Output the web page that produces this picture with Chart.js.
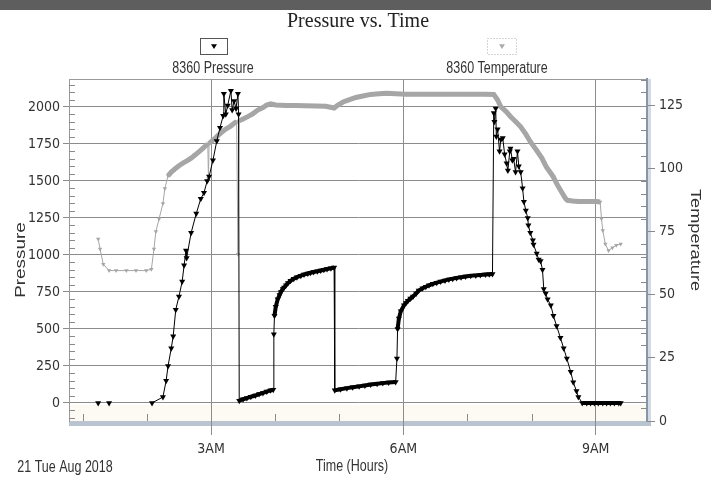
<!DOCTYPE html>
<html><head><meta charset="utf-8">
<script src="https://cdn.jsdelivr.net/npm/chart.js@4"></script>
<style>html,body{margin:0;padding:0;background:#fff;}canvas{display:block;}</style>
</head><body>
<canvas id="c" width="711" height="481"></canvas>
<script>
// ---- data (hours after midnight, 21 Tue Aug 2018) ----
const pressureHours = [1.24,1.32,1.41,1.75,2.08,2.25,2.30,2.33,2.38,2.41,2.45,2.50,2.55,2.58,2.61,2.62,2.69,2.77,2.84,2.89,2.94,2.97,3.03,3.09,3.14,3.19,3.20,3.23,3.26,3.31,3.33,3.36,3.39,3.42,3.43,
  3.44,3.50,3.56,3.62,3.69,3.75,3.81,3.87,3.93,3.97,3.98,3.99,
  4.01,4.04,4.07,4.09,4.12,4.14,4.17,4.20,4.24,4.29,4.34,4.40,4.45,4.51,4.55,4.60,4.66,4.71,4.76,4.81,4.87,4.92,
  4.93,5.02,5.12,5.21,5.31,5.40,5.49,5.59,5.68,5.77,5.88,
  5.90,5.91,5.93,5.96,6.01,6.04,6.07,6.11,6.15,6.20,6.24,6.30,6.35,6.40,6.46,6.52,6.58,6.65,6.71,6.77,6.83,6.90,6.97,7.05,7.13,7.20,7.28,7.34,7.39,
  7.41,7.42,7.44,7.45,7.47,7.50,7.52,7.55,7.58,7.61,7.63,7.66,7.67,7.70,7.72,7.75,7.78,7.80,7.83,7.86,7.88,7.91,7.94,7.95,7.98,8.02,8.03,8.08,8.11,8.14,8.17,8.19,8.22,8.25,8.30,8.34,8.39,8.45,8.50,8.55,8.61,8.65,8.70,8.73,
  8.79,8.86,8.92,8.98,9.04,9.11,9.17,9.23,9.29,9.36,9.39];
const pressureValues = [0,null,0,null,0,40,150,250,370,450,630,720,820,930,1030,980,1150,1280,1380,1420,1500,1530,1640,1770,1860,1940,2090,1950,2010,2110,1980,2040,1990,2090,1950,
  15,25,33,42,50,60,68,77,85,90,465,590,
  650,700,730,750,770,780,795,810,825,840,850,860,868,875,880,885,890,895,900,905,910,915,
  85,93,100,106,112,118,124,130,134,138,142,
  300,500,570,620,660,675,690,705,720,740,760,775,785,795,805,813,820,828,835,840,845,850,855,859,862,865,868,870,872,
  1960,1900,1990,1800,1850,1700,1780,1790,1680,1620,1570,1700,1720,1640,1650,1560,1700,1600,1560,1450,1360,1300,1250,1200,1150,1100,1070,1010,970,960,900,770,740,700,660,590,520,440,370,300,210,140,80,40,
  0,0,0,0,0,0,0,0,0,0,0];
const temperatureHours = [1.24,1.27,1.32,1.41,1.52,1.68,1.83,1.99,2.07,2.11,2.14,2.19,2.25,2.28,2.33,2.38,2.44,2.50,2.56,2.63,2.69,2.75,2.81,2.88,2.92,2.95,2.96,2.97,3.05,3.11,3.17,3.23,3.30,3.36,3.40,3.42,3.44,3.50,3.58,3.65,3.73,3.81,3.87,3.93,
  4.01,4.17,4.32,4.48,4.64,4.79,4.92,4.98,5.06,5.15,5.26,5.37,5.49,5.62,5.74,5.88,6.04,6.19,6.35,6.50,6.66,6.82,6.97,7.13,7.28,7.41,
  7.47,7.52,7.60,7.67,7.75,7.83,7.91,7.98,8.08,8.16,8.23,8.30,8.34,8.40,8.47,8.53,8.56,8.64,8.73,8.83,8.92,9.01,9.07,9.09,9.11,9.15,9.20,9.26,9.32,9.39];
const temperatureValues = [72,68,62,59.5,59.5,59.5,59.5,59.5,60,68,75,80,86,92,97,98.5,99.8,101,102,103,104,105.2,106.5,108,109,109.5,96,109.8,111.5,113,114.3,115.5,116.5,117.8,118.5,66,118.8,119.5,120.5,121.5,123,124,125,125.5,
  125,124.8,124.8,124.7,124.6,124.5,123.8,125,126.2,127,128,128.6,129.2,129.5,129.7,129.5,129.3,129.3,129.3,129.3,129.3,129.3,129.3,129.3,129.3,129.2,
  127,124.3,122.5,120.5,118.5,116.4,113.5,110.5,107,104,100.5,98,96.5,93.5,90.5,88,87.3,87,86.8,86.8,86.8,86.8,86.6,80,75.4,70,67.5,68.5,69.5,70];
const pressureTicks = [0,250,500,750,1000,1250,1500,1750,2000];
const temperatureTicks = [0,25,50,75,100,125];
const hourTicks = [1,2,3,4,5,6,7,8,9];
const hourLabels = {3:'3AM', 6:'6AM', 9:'9AM'};
const seriesNames = ['8360 Pressure','8360 Temperature'];
const chartTitle = 'Pressure vs. Time';
const dateLabel = '21 Tue Aug 2018';
const xTitle = 'Time (Hours)';
const yTitle = 'Pressure';
const y1Title = 'Temperature';

const SANS = "'Liberation Sans', Arial, sans-serif";
const TICKFONT = {family:"'Liberation Sans Narrow', 'DejaVu Sans Condensed', 'Liberation Sans', sans-serif", size:14};
const GRID = '#8c8c8c';

function pts(xs, ys){ return xs.map((x,i)=>({x:x, y:ys[i]})); }

function txt(ctx, s, x, y, size, sx, sy, rot, family){
  ctx.save(); ctx.translate(x,y); if(rot) ctx.rotate(rot); ctx.scale(sx,sy);
  ctx.font = size+'px '+(family||SANS); ctx.textAlign='center'; ctx.textBaseline='middle';
  ctx.fillText(s,0,0); ctx.restore();
}
function tri(ctx, x, y, r){
  ctx.beginPath(); ctx.moveTo(x-r, y-r*0.6); ctx.lineTo(x+r, y-r*0.6); ctx.lineTo(x, y+r); ctx.closePath(); ctx.fill();
}

const decor = {
  id:'decor',
  beforeDraw(chart){
    const ctx = chart.ctx, a = chart.chartArea;
    const z = chart.scales.y.getPixelForValue(0);
    ctx.save();
    ctx.fillStyle = '#5e5e5e'; ctx.fillRect(0,0,711,10);
    ctx.fillStyle = '#fdfaf4'; ctx.fillRect(a.left, z+2, a.right-a.left, a.bottom-z-2);
    ctx.fillStyle = '#b9c4d0'; ctx.fillRect(a.left, a.bottom, a.right-a.left+4, 5);
    ctx.fillStyle = '#d3dae2'; ctx.fillRect(a.right, a.top, 4, a.bottom-a.top);
    ctx.restore();
  },
  afterDraw(chart){
    const ctx = chart.ctx, a = chart.chartArea, y = chart.scales.y, y1 = chart.scales.y1, x = chart.scales.x;
    ctx.save();
    ctx.strokeStyle = '#9a9a9a'; ctx.lineWidth = 1;
    ctx.beginPath(); ctx.moveTo(a.left, a.top+0.5); ctx.lineTo(a.right, a.top+0.5); ctx.stroke();
    // minor ticks
    ctx.strokeStyle = '#8a8a8a'; ctx.beginPath();
    for(let v=-100; v<=2150; v+=50){ if(v%250===0) continue; const p=Math.round(y.getPixelForValue(v))+0.5; if(p<a.top||p>a.bottom) continue; ctx.moveTo(a.left, p); ctx.lineTo(a.left+6, p); }
    for(let v=5; v<=135; v+=5){ if(v%25===0) continue; const p=Math.round(y1.getPixelForValue(v))+0.5; if(p<a.top) continue; ctx.moveTo(a.right, p); ctx.lineTo(a.right-6, p); }
    for(const h of hourTicks){ if(hourLabels[h]) continue; const p=Math.round(x.getPixelForValue(h))+0.5; ctx.moveTo(p, a.bottom); ctx.lineTo(p, a.bottom-7); }
    ctx.stroke();
    // title
    ctx.fillStyle = '#222';
    txt(ctx, chartTitle, 358, 21, 20, 1, 1.05, 0, "'Liberation Serif', 'Times New Roman', serif");
    // legend
    ctx.strokeStyle = '#555'; ctx.lineWidth = 1; ctx.strokeRect(200.5, 38.5, 27, 16);
    ctx.fillStyle = '#000'; tri(ctx, 214, 46, 3);
    ctx.fillStyle = '#333'; txt(ctx, seriesNames[0], 213, 69, 12.5, 1, 1.25);
    ctx.setLineDash([1,2]); ctx.strokeStyle = '#aaa'; ctx.strokeRect(487.5, 38.5, 29, 16); ctx.setLineDash([]);
    ctx.fillStyle = '#aaa'; tri(ctx, 502, 46, 3);
    ctx.fillStyle = '#333'; txt(ctx, seriesNames[1], 497, 69, 12.5, 1, 1.25);
    // bottom texts
    txt(ctx, dateLabel, 65, 468, 12.5, 1, 1.25);
    txt(ctx, xTitle, 352, 467, 12.5, 1, 1.25);
    // axis titles
    txt(ctx, yTitle, 21, 260, 14, 1.35, 1, -Math.PI/2);
    txt(ctx, y1Title, 695, 240, 14, 1.3, 1, Math.PI/2);
    ctx.restore();
  }
};

const setTicks = list => scale => { scale.ticks = list.map(v => ({value:v})); };

new Chart(document.getElementById('c'), {
  type:'line',
  data:{ datasets:[
    { label:seriesNames[0], data:pts(pressureHours, pressureValues), yAxisID:'y',
      borderColor:'#000', backgroundColor:'#000', borderWidth:4, spanGaps:false,
      pointStyle:'triangle', rotation:180, pointRadius:3.5, pointBorderWidth:0, pointBackgroundColor:'#000',
      segment:{ borderWidth: c => {
        const x0=c.p0.parsed.x, d=Math.abs(c.p1.parsed.y-c.p0.parsed.y);
        return (d>100 || x0<3.43 || (x0>=7.40 && x0<8.79)) ? 1 : 4; } } },
    { label:seriesNames[1], data:pts(temperatureHours, temperatureValues), yAxisID:'y1',
      borderColor:'#a6a6a6', backgroundColor:'#a6a6a6', borderWidth:5,
      pointStyle:'triangle', rotation:180, pointRadius:2.5, pointBorderWidth:0, pointBackgroundColor:'#a6a6a6',
      segment:{ borderWidth: c => {
        const x0=c.p0.parsed.x, d=Math.abs(c.p1.parsed.y-c.p0.parsed.y);
        return (d>4 || x0<2.3 || x0>=9.07) ? 1 : 5; } } }
  ]},
  options:{
    responsive:false, animation:false, devicePixelRatio:1,
    layout:{ padding:{ top:79, left:0, right:0, bottom:0 } },
    plugins:{ legend:{display:false}, title:{display:false}, tooltip:{enabled:false} },
    scales:{
      x:{ type:'linear', min:0.785, max:9.80,
        afterFit: s => { s.height = 60; },
        afterBuildTicks: setTicks(hourTicks),
        ticks:{ autoSkip:false, maxRotation:0, padding:6, color:'#333', font:TICKFONT,
          callback: v => hourLabels[v] || '' },
        grid:{ color: c => (c.tick && hourLabels[c.tick.value]) ? GRID : 'rgba(0,0,0,0)', tickLength:14,
          tickColor: c => (c.tick && hourLabels[c.tick.value]) ? GRID : 'rgba(0,0,0,0)' },
        border:{ display:false } },
      y:{ position:'left', min:-122, max:2189,
        afterFit: s => { s.width = 69; },
        afterBuildTicks: setTicks(pressureTicks),
        ticks:{ padding:3, color:'#333', font:TICKFONT, callback: v => String(v) },
        grid:{ color:GRID, tickLength:6, tickColor:GRID },
        border:{ display:true, color:'#9a9a9a' } },
      y1:{ position:'right', min:0, max:135.3,
        afterFit: s => { s.width = 64; },
        afterBuildTicks: setTicks(temperatureTicks),
        ticks:{ padding:4, color:'#333', font:TICKFONT, callback: v => String(v) },
        grid:{ drawOnChartArea:false, tickLength:8, tickColor:'#8a8a8a' },
        border:{ display:true, color:'#8596aa', width:2 } }
    }
  },
  plugins:[decor]
});
</script>
</body></html>
